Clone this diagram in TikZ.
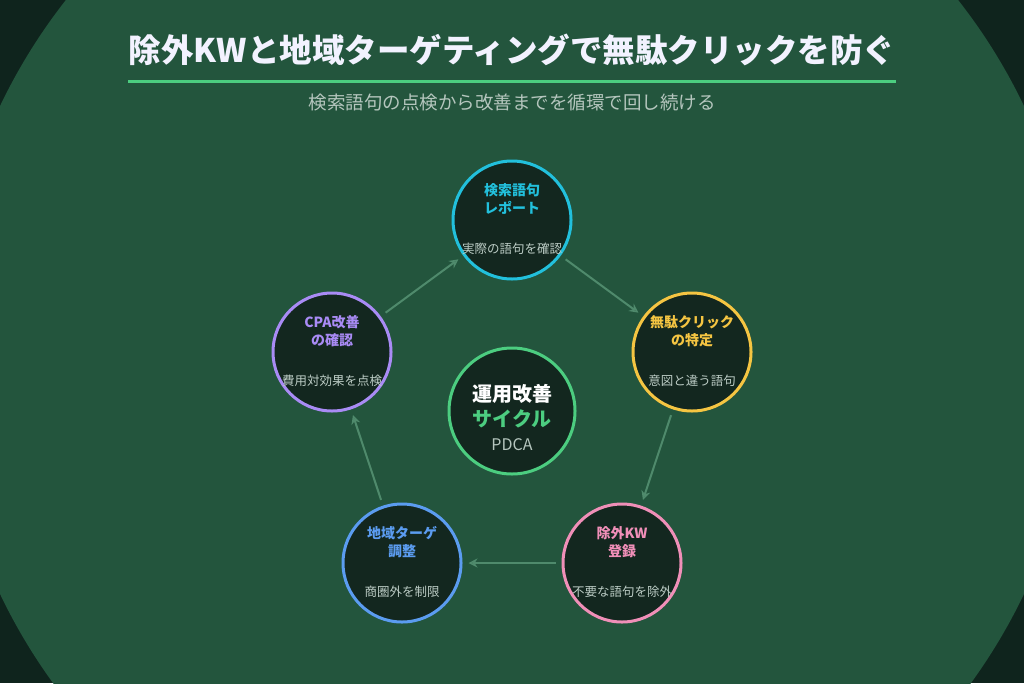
\documentclass[tikz,border=0pt]{standalone}
\usepackage{fontspec}
\setmainfont{Noto Sans CJK JP}
\usetikzlibrary{arrows.meta}
\definecolor{bgdark}{HTML}{0F241D}
\definecolor{bg}{HTML}{23553D}
\definecolor{cfill}{HTML}{13271F}
\definecolor{ccyan}{HTML}{22C0DC}
\definecolor{cyel}{HTML}{F5C542}
\definecolor{cpink}{HTML}{F08FB8}
\definecolor{cblue}{HTML}{5B9CF0}
\definecolor{cpur}{HTML}{A98BF5}
\definecolor{cgreen}{HTML}{4CCD80}
\definecolor{arr}{HTML}{4F8A6C}
\definecolor{sub}{HTML}{B5C6BE}
\tikzset{
 step/.style={circle,draw=#1,line width=3pt,fill=cfill,minimum size=118pt,inner sep=0pt},
 ttl/.style={font=\bfseries\fontsize{14}{18}\selectfont,text=#1,align=center},
 desc/.style={font=\fontsize{12.5}{14}\selectfont,text=sub!90!white},
 flow/.style={draw=arr,line width=2pt,-{Stealth[length=9pt,width=9pt,open]},shorten >=6pt,shorten <=6pt}
}
\begin{document}
\begin{tikzpicture}[x=1pt,y=-1pt]
\fill[bgdark] (0,0) rectangle (1024,683);
\begin{scope}
\clip (0,0) rectangle (1024,683);
\fill[bg] (512,350) circle (567);
\end{scope}
\useasboundingbox (0,0) rectangle (1024,683);
\node[font=\bfseries\fontsize{32.5}{36}\selectfont,text=white!95!blue] (title) at (512,50) {除外KWと地域ターゲティングで無駄クリックを防ぐ};
\draw[cgreen,line width=3pt] (128,81) -- (896,81);
\node[font=\fontsize{18.5}{20}\selectfont,text=sub] (subt) at (512,102) {検索語句の点検から改善までを循環で回し続ける};

\node[step=ccyan] (a) at (512,220) {};
\node[step=cyel] (b) at (692,352) {};
\node[step=cpink] (c) at (622,563) {};
\node[step=cblue] (d) at (402,563) {};
\node[step=cpur] (e) at (332,352) {};
\node[step=cgreen,minimum size=126pt] (m) at (512,411) {};

\foreach \n/\c/\t/\s in {a/ccyan/{検索語句\\レポート}/実際の語句を確認, b/cyel/{無駄クリック\\の特定}/意図と違う語句, c/cpink/{除外KW\\登録}/不要な語句を除外, d/cblue/{地域ターゲ\\調整}/商圏外を制限, e/cpur/{CPA改善\\の確認}/費用対効果を点検}{
 \node[ttl=\c] (\n t) at ([yshift=21pt]\n.center) {\t};
 \node[desc] (\n s) at ([yshift=-29pt]\n.center) {\s};
}
\node[font=\bfseries\fontsize{20}{24}\selectfont,text=white] (m1) at (512,394) {運用改善};
\node[font=\bfseries\fontsize{20}{24}\selectfont,text=cgreen] (m2) at (512,419) {サイクル};
\node[font=\fontsize{16}{18}\selectfont,text=sub] (m3) at (512,445) {PDCA};

\draw[flow] (a) -- (b);
\draw[flow] (b) -- (c);
\draw[flow] (c) -- (d);
\draw[flow] (d) -- (e);
\draw[flow] (e) -- (a);
\end{tikzpicture}
\end{document}
